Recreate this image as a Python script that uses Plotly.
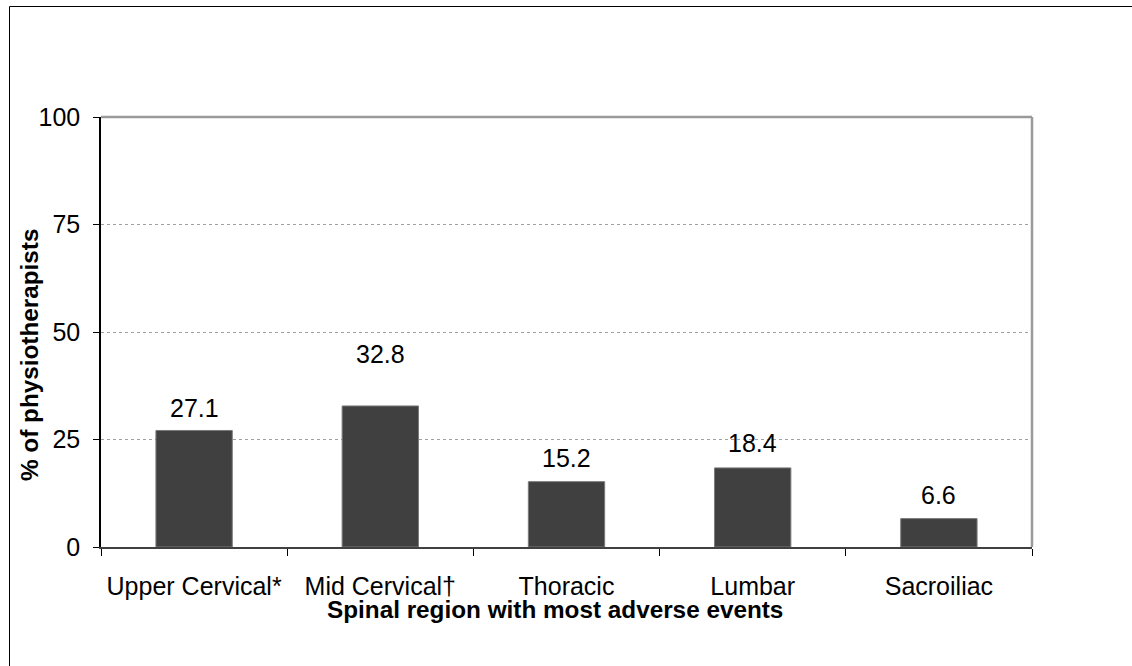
import plotly.graph_objects as go

# Survey results: spinal region reported with the most adverse events
regions = ["Upper Cervical*", "Mid Cervical†", "Thoracic", "Lumbar", "Sacroiliac"]
percent = [27.1, 32.8, 15.2, 18.4, 6.6]
label_offsets = [22, 52, 24, 25, 24]  # vertical lift of each value label, px

y_ticks = [0, 25, 50, 75, 100]

W, H = 1132, 666
L, R, T, B = 101, 100, 117, 119
FONT = "Arial, Liberation Sans, sans-serif"
FS = 25
TITLE_FS = 24.3

fig = go.Figure(
    go.Bar(
        x=regions,
        y=percent,
        width=0.41,
        marker=dict(color="#404040", line=dict(color="#7a7a7a", width=1)),
        hoverinfo="skip",
    )
)

# value labels above bars
for reg, val, off in zip(regions, percent, label_offsets):
    fig.add_annotation(
        x=reg, y=val, text=f"{val:.1f}", showarrow=False,
        yanchor="middle", yshift=off,
        font=dict(family=FONT, size=FS, color="#000000"),
    )

pw, ph = W - L - R, H - T - B


def px_x(p):
    return (p - L) / pw


def px_y(p):
    return (H - B - p) / ph


# axis titles
fig.add_annotation(
    x=px_x(555), y=px_y(609), xref="paper", yref="paper",
    text="<b>Spinal region with most adverse events</b>", showarrow=False,
    xanchor="center", yanchor="middle",
    font=dict(family=FONT, size=TITLE_FS, color="#000000"),
)
fig.add_annotation(
    x=px_x(29), y=px_y(355), xref="paper", yref="paper",
    text="<b>% of physiotherapists</b>", showarrow=False, textangle=-90,
    xanchor="center", yanchor="middle",
    font=dict(family=FONT, size=TITLE_FS, color="#000000"),
)

shapes = [
    # plot area top and right border
    dict(type="line", xref="paper", yref="paper", x0=0, x1=1, y0=1, y1=1,
         line=dict(color="#9a9a9a", width=2.5)),
    dict(type="line", xref="paper", yref="paper", x0=1, x1=1, y0=0, y1=1,
         line=dict(color="#9a9a9a", width=2.5)),
    # outer frame of the chart
    dict(type="line", xref="paper", yref="paper", x0=px_x(9.5), x1=px_x(W + 20),
         y0=px_y(6.5), y1=px_y(6.5), line=dict(color="#000000", width=1)),
    dict(type="line", xref="paper", yref="paper", x0=px_x(9.5), x1=px_x(9.5),
         y0=px_y(6.5), y1=px_y(H + 20), line=dict(color="#000000", width=1)),
]

fig.update_layout(
    width=W, height=H,
    margin=dict(l=L, r=R, t=T, b=B, pad=0),
    paper_bgcolor="white", plot_bgcolor="white",
    showlegend=False,
    shapes=shapes,
    font=dict(family=FONT, size=FS, color="#000000"),
    xaxis=dict(
        type="category",
        range=[-0.5, 4.5],
        showline=True, linecolor="#404040", linewidth=2,
        ticks="outside", tickson="boundaries", ticklen=7, tickwidth=1.2,
        tickcolor="#000000",
        ticklabelstandoff=16,
        tickfont=dict(family=FONT, size=FS, color="#000000"),
        showgrid=False, zeroline=False,
    ),
    yaxis=dict(
        range=[0, 100],
        tickvals=y_ticks,
        ticktext=[str(v) for v in y_ticks],
        showline=True, linecolor="#000000", linewidth=1.5,
        ticks="outside", ticklen=6, tickwidth=1.2, tickcolor="#000000",
        ticklabelstandoff=8,
        tickfont=dict(family=FONT, size=FS, color="#000000"),
        showgrid=True, gridcolor="#a0a0a0", gridwidth=1, griddash="dot",
        zeroline=False,
    ),
)

fig.write_html("out.html")
